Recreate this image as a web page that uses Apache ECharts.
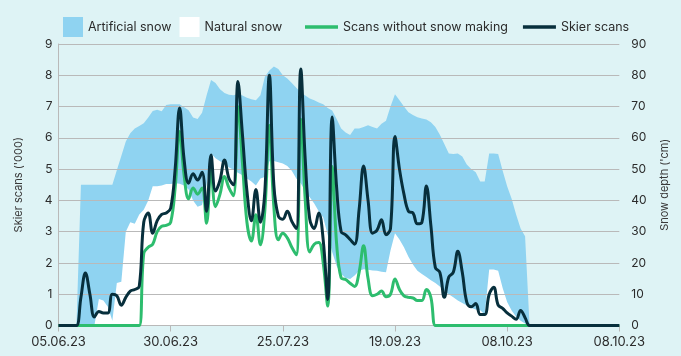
<!DOCTYPE html>
<html>
<head>
<meta charset="utf-8">
<script src="https://cdn.jsdelivr.net/npm/echarts@6/dist/echarts.min.js"></script>
<style>
  html, body { margin: 0; padding: 0; background: #def3f5; }
  #chart { width: 681px; height: 356px; }
</style>
</head>
<body>
<div id="chart"></div>
<script>
// Daily season data, one entry per day (126 days)
const tickLabels = ['05.06.23', '30.06.23', '25.07.23', '19.09.23', '08.10.23', '08.10.23'];
const labelStep = 25;

// Total snow depth (cm) – artificial + natural
const artificialSnow = [
  0, 0, 0, 0, 0, 45, 45, 45, 45, 45,
  45, 45, 45, 49.6, 54.2, 58.8, 61.5, 63, 63.8, 64.7,
  66.5, 68.6, 69, 68.5, 70.5, 70.7, 70.7, 70.7, 69.8, 68.8,
  66.5, 66, 68, 73.5, 78.5, 77.5, 75.5, 74.3, 73.8, 73.6,
  74, 73.5, 72.8, 72.3, 72, 73.6, 79.5, 81.5, 82.8, 82,
  80, 79, 77.5, 76, 74.5, 73.5, 72.6, 72, 71.3, 70.7,
  69.5, 68.7, 66, 63, 61.7, 60.9, 63, 63, 63.5, 64,
  63.5, 63, 64.5, 65.5, 70, 73.9, 72, 70, 68.2, 67.3,
  66.6, 66.2, 65.9, 65, 63.5, 61, 58, 55, 54.8, 55,
  54, 51.5, 50, 49, 46, 46, 55, 55, 54.8, 49.5,
  44.5, 40.5, 35.5, 31, 28.5, 0, 0, 0, 0, 0,
  0, 0, 0, 0, 0, 0, 0, 0, 0, 0,
  0, 0, 0, 0, 0, 0
];

// Natural snow depth (cm)
const naturalSnow = [
  0, 0, 0, 0, 0, 0, 0, 0, 0, 8.5,
  8, 6, 1.5, 13.6, 14, 30, 33, 32.5, 35.5, 37,
  40, 44.5, 44.5, 44.8, 45.2, 45.2, 45.5, 45.3, 44.8, 43.5,
  40, 38, 38.5, 45, 55, 53.5, 52.5, 51.8, 50.5, 49.8,
  48.8, 48, 47, 46, 44.8, 47, 47.5, 52.5, 52.6, 52.2,
  51.8, 51, 49.5, 47, 45.5, 43, 41, 39, 36.5, 34.5,
  29, 23.5, 19, 16.5, 15.2, 14.9, 16, 17.5, 18, 17.8,
  17.6, 17.5, 17.2, 17, 24, 29.5, 27.5, 25, 22, 19.5,
  17.5, 16.5, 15.5, 14.5, 13.6, 12.5, 11, 10, 9, 8,
  7.2, 6.4, 5.6, 5.1, 4.9, 3.5, 17.9, 17.9, 17.5, 12,
  7.5, 4.8, 2.8, 1.5, 0.6, 0, 0, 0, 0, 0,
  0, 0, 0, 0, 0, 0, 0, 0, 0, 0,
  0, 0, 0, 0, 0, 0
];

// Lift scans without snow making ('000)
const scansWithoutSnowMaking = [
  0, 0, 0, 0, 0, 0, 0, 0, 0, 0,
  0, 0, 0, 0, 0, 0, 0, 0, 0, 2.3,
  2.5, 2.6, 3.0, 3.17, 3.2, 3.3, 4.4, 6.2, 4.8, 4.05,
  4.4, 4.2, 4.4, 3.27, 5.0, 3.8, 4.2, 4.76, 4.4, 4.15,
  7.0, 5.2, 3.3, 2.7, 3.54, 2.58, 3.7, 6.4, 3.8, 2.74,
  2.95, 2.8, 2.5, 2.26, 6.6, 4.0, 2.35, 2.6, 2.65, 2.0,
  0.62, 5.08, 2.6, 1.52, 1.47, 1.35, 1.25, 1.7, 2.55, 1.5,
  0.95, 1.0, 1.1, 0.92, 1.0, 1.49, 1.15, 0.95, 0.9, 0.88,
  0.8, 0.8, 1.15, 0.9, 0, 0, 0, 0, 0, 0,
  0, 0, 0, 0, 0, 0, 0, 0, 0, 0,
  0, 0, 0, 0, 0, 0, 0, 0, 0, 0,
  0, 0, 0, 0, 0, 0, 0, 0, 0, 0,
  0, 0, 0, 0, 0, 0
];

// All skier scans ('000)
const skierScans = [
  0, 0, 0, 0, 0, 0.9, 1.68, 1.0, 0.27, 0.45,
  0.4, 0.4, 1.0, 0.95, 0.65, 0.9, 1.1, 1.15, 1.25, 3.3,
  3.6, 2.95, 3.35, 3.55, 3.6, 3.75, 5.0, 6.95, 5.3, 4.55,
  4.85, 4.65, 4.9, 3.65, 5.45, 4.3, 4.65, 5.29, 4.7, 4.5,
  7.8, 6.1, 4.3, 3.35, 4.35, 3.3, 4.3, 8.0, 4.5, 3.5,
  3.4, 3.65, 3.33, 3.1, 8.2, 5.3, 3.4, 3.1, 3.6, 2.74,
  0.83, 6.67, 4.4, 3.0, 2.9, 2.75, 2.6, 3.7, 5.1, 4.0,
  2.95, 3.05, 3.38, 2.9, 3.1, 6.04, 5.0, 4.2, 3.65, 3.6,
  3.25, 3.3, 4.46, 3.2, 1.85, 1.7, 0.9, 1.55, 1.7, 2.37,
  1.7, 0.75, 0.6, 0.7, 0.35, 0.35, 1.0, 1.22, 0.65, 0.55,
  0.4, 0.3, 0.2, 0.48, 0.25, 0, 0, 0, 0, 0,
  0, 0, 0, 0, 0, 0, 0, 0, 0, 0,
  0, 0, 0, 0, 0, 0
];

const days = skierScans.map((_, i) => String(i));

const FONT = 'Inter, "Noto Sans", sans-serif';
const GRID_COLOR = '#b9b9b9';
const TEXT_COLOR = '#2b2b2b';
const BLUE = '#8fd3f1';
const GREEN = '#2dbd6e';
const NAVY = '#072f3c';

const chart = echarts.init(document.getElementById('chart'), null, { renderer: 'canvas' });

chart.setOption({
  backgroundColor: '#def3f5',
  animation: false,
  textStyle: { fontFamily: FONT },
  legend: [
    {
      data: ['Artificial snow', 'Natural snow'],
      left: 58, top: 12,
      itemWidth: 20, itemHeight: 20, itemGap: 8,
      icon: 'rect',
      textStyle: { fontSize: 12.5, color: TEXT_COLOR, fontFamily: FONT }
    },
    {
      data: ['Scans without snow making', 'Skier scans'],
      left: 300, top: 14,
      itemWidth: 33, itemHeight: 3.5, itemGap: 15,
      icon: 'rect',
      textStyle: { fontSize: 12.5, color: TEXT_COLOR, fontFamily: FONT, lineHeight: 16 }
    }
  ],
  grid: { left: 58.5, right: 61.7, top: 44, bottom: 30.5, containLabel: false },
  xAxis: {
    type: 'category',
    data: days,
    boundaryGap: false,
    axisLine: { show: true, lineStyle: { color: GRID_COLOR, width: 1 } },
    axisTick: { show: true, interval: labelStep - 1, length: 6, lineStyle: { color: GRID_COLOR } },
    axisLabel: {
      interval: labelStep - 1,
      margin: 10,
      fontSize: 13,
      color: TEXT_COLOR,
      fontFamily: FONT,
      formatter: (v, idx) => tickLabels[Math.round(idx / labelStep)]
    },
    splitLine: { show: false }
  },
  yAxis: [
    {
      type: 'value',
      min: 0, max: 9, interval: 1,
      z: 2,
      name: "Skier scans ('000)",
      nameLocation: 'middle',
      nameRotate: 90,
      nameGap: 34,
      nameTextStyle: { fontSize: 11, color: '#3a3a3a', fontFamily: FONT },
      axisLine: { show: true, lineStyle: { color: GRID_COLOR, width: 1 } },
      axisTick: { show: false },
      axisLabel: { fontSize: 12, color: TEXT_COLOR, margin: 6, fontFamily: FONT },
      splitLine: { show: true, lineStyle: { color: GRID_COLOR, width: 1 } }
    },
    {
      type: 'value',
      min: 0, max: 90, interval: 10,
      z: 2,
      position: 'right',
      name: "Snow depth ('cm)",
      nameLocation: 'middle',
      nameRotate: 90,
      nameGap: 40,
      nameTextStyle: { fontSize: 11, color: '#3a3a3a', fontFamily: FONT },
      axisLine: { show: false },
      axisTick: { show: false },
      axisLabel: { fontSize: 12, color: TEXT_COLOR, margin: 12, fontFamily: FONT },
      splitLine: { show: false }
    }
  ],
  series: [
    {
      name: 'Artificial snow',
      type: 'line',
      yAxisIndex: 1,
      data: artificialSnow,
      z: 1,
      symbol: 'none',
      lineStyle: { width: 0 },
      itemStyle: { color: BLUE },
      areaStyle: { color: BLUE, opacity: 1 }
    },
    {
      name: 'Natural snow',
      type: 'line',
      yAxisIndex: 1,
      data: naturalSnow,
      z: 1,
      symbol: 'none',
      lineStyle: { width: 0 },
      itemStyle: { color: '#ffffff' },
      areaStyle: { color: '#ffffff', opacity: 1 }
    },
    {
      name: 'Scans without snow making',
      type: 'line',
      yAxisIndex: 0,
      data: scansWithoutSnowMaking,
      z: 3,
      symbol: 'none',
      smooth: 0.4,
      itemStyle: { color: GREEN },
      lineStyle: { color: GREEN, width: 3 }
    },
    {
      name: 'Skier scans',
      type: 'line',
      yAxisIndex: 0,
      data: skierScans,
      z: 4,
      symbol: 'none',
      smooth: 0.4,
      itemStyle: { color: NAVY },
      lineStyle: { color: NAVY, width: 3 }
    }
  ]
});
</script>
</body>
</html>
